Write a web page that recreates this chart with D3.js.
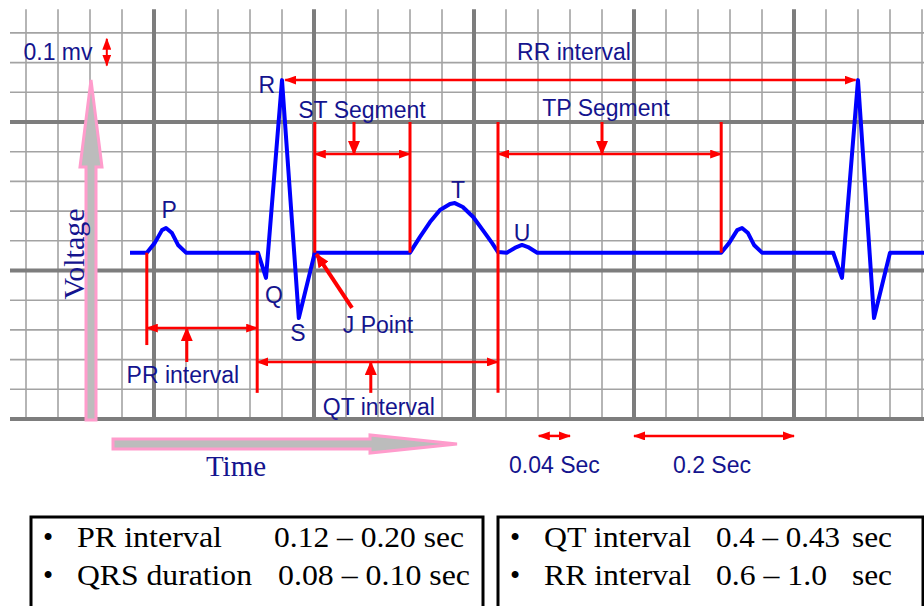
<!DOCTYPE html>
<html>
<head>
<meta charset="utf-8">
<script src="https://cdn.jsdelivr.net/npm/d3@7"></script>
<style>
  body { margin: 0; background: #fff; }
</style>
</head>
<body>
<script>
"use strict";

// ECG trace: time in seconds, voltage in mV
var ecgTime = [0.170, 0.191, 0.201, 0.210, 0.215, 0.2225, 0.230, 0.240,
               0.330, 0.340, 0.360, 0.381, 0.401,
               0.520, 0.5325, 0.545, 0.5575, 0.570, 0.576, 0.586, 0.599, 0.611, 0.6225, 0.630,
               0.641, 0.651, 0.660, 0.6675, 0.679,
               0.909, 0.919, 0.929, 0.935, 0.9425, 0.950, 0.960,
               1.049, 1.060, 1.080, 1.100, 1.120, 1.163];
var ecgVolt = [0.06, 0.06, 0.093, 0.136, 0.143, 0.126, 0.086, 0.06,
               0.06, -0.025, 0.641, -0.16, 0.06,
               0.06, 0.113, 0.163, 0.204, 0.224, 0.227, 0.214, 0.18, 0.136, 0.093, 0.062,
               0.06, 0.076, 0.086, 0.079, 0.06,
               0.06, 0.093, 0.136, 0.143, 0.126, 0.086, 0.06,
               0.06, -0.025, 0.641, -0.16, 0.06, 0.06];

// wave letters
var waveNames = ["P", "Q", "R", "S", "T", "U"];
var waveT = [0.219, 0.350, 0.341, 0.380, 0.580, 0.660];
var waveV = [0.177, -0.109, 0.598, -0.237, 0.244, 0.099];

// red vertical markers
var markT = [0.191, 0.329, 0.401, 0.520, 0.630, 0.909];
var markTop = [0.06, 0.06, 0.5, 0.5, 0.5, 0.5];
var markBottom = [-0.251, -0.412, 0.06, 0.06, -0.412, 0.06];

// double headed interval arrows
var spanNames = ["PR interval", "QT interval", "ST Segment", "TP Segment", "RR interval"];
var spanStart = [0.191, 0.329, 0.401, 0.630, 0.364];
var spanEnd = [0.329, 0.630, 0.520, 0.909, 1.077];
var spanLevel = [-0.194, -0.308, 0.392, 0.392, 0.641];
var spanLabelT = [0.236, 0.481, 0.460, 0.765, 0.725];
var spanLabelV = [-0.379, -0.487, 0.513, 0.520, 0.709];

// pointer arrows (from -> to)
var pointerFromT = [0.241, 0.471, 0.450, 0.760, 0.4475];
var pointerFromV = [-0.308, -0.412, 0.5, 0.5, -0.126];
var pointerToT = [0.241, 0.471, 0.450, 0.760, 0.403];
var pointerToV = [-0.194, -0.308, 0.392, 0.392, 0.055];

// scale bars under the grid
var barNames = ["0.04 Sec", "0.2 Sec"];
var barStart = [0.681, 0.800];
var barEnd = [0.720, 1.000];

// normal values table
var tableNames = [["PR interval", "QRS duration"], ["QT interval", "RR interval"]];
var tableRanges = [["0.12 \u2013 0.20 sec", "0.08 \u2013 0.10 sec"], ["0.4 \u2013 0.43", "0.6 \u2013 1.0"]];

var width = 924, height = 606;
var navy = "#14148e", red = "#ff0000", pink = "#ff9ccc";
var sans = "'Liberation Sans', Arial, sans-serif";
var serif = "'Liberation Serif', 'Times New Roman', serif";

var x = d3.scaleLinear().domain([0, 1.2]).range([-6, 954]);   // 0.04 s per small box
var y = d3.scaleLinear().domain([-0.5, 0.5]).range([419, 122]); // 0.1 mV per small box

var svg = d3.select("body").append("svg")
    .attr("width", width)
    .attr("height", height)
    .style("display", "block");

var defs = svg.append("defs");
defs.append("marker").attr("id", "head")
    .attr("markerUnits", "userSpaceOnUse")
    .attr("markerWidth", 12).attr("markerHeight", 9)
    .attr("refX", 11).attr("refY", 4.5)
    .attr("orient", "auto-start-reverse")
    .append("path").attr("d", "M0,0 L12,4.5 L0,9 Z").attr("fill", red);
defs.append("marker").attr("id", "bighead")
    .attr("markerUnits", "userSpaceOnUse")
    .attr("markerWidth", 14).attr("markerHeight", 12)
    .attr("refX", 13).attr("refY", 6)
    .attr("orient", "auto")
    .append("path").attr("d", "M0,0 L14,6 L0,12 Z").attr("fill", red);

// grid
var gridLeft = 0.02, gridRight = 1.1625, gridTop = 0.88, gridBottom = -0.5;
var colIdx = d3.range(1, 30), rowIdx = d3.range(-5, 9);
var grid = svg.append("g");
grid.selectAll(".vminor").data(colIdx.filter(function(i) { return i % 5 !== 0; }))
  .join("line")
    .attr("x1", function(i) { return x(i * 0.04); })
    .attr("x2", function(i) { return x(i * 0.04); })
    .attr("y1", y(gridTop)).attr("y2", y(gridBottom))
    .attr("stroke", "#a3a3a3").attr("stroke-width", 1.6);
grid.selectAll(".hminor").data(rowIdx.filter(function(i) { return i % 5 !== 0; }))
  .join("line")
    .attr("x1", x(gridLeft)).attr("x2", x(gridRight))
    .attr("y1", function(i) { return y(i * 0.1); })
    .attr("y2", function(i) { return y(i * 0.1); })
    .attr("stroke", "#a3a3a3").attr("stroke-width", 1.6);
grid.selectAll(".vmajor").data(colIdx.filter(function(i) { return i % 5 === 0; }))
  .join("line")
    .attr("x1", function(i) { return x(i * 0.04); })
    .attr("x2", function(i) { return x(i * 0.04); })
    .attr("y1", y(gridTop)).attr("y2", y(gridBottom))
    .attr("stroke", "#7d7d7d").attr("stroke-width", 4);
grid.selectAll(".hmajor").data(rowIdx.filter(function(i) { return i % 5 === 0; }))
  .join("line")
    .attr("x1", x(gridLeft)).attr("x2", x(gridRight))
    .attr("y1", function(i) { return y(i * 0.1); })
    .attr("y2", function(i) { return y(i * 0.1); })
    .attr("stroke", "#7d7d7d").attr("stroke-width", 4);

// voltage and time arrows
svg.append("path")
    .attr("d", "M91,80 L102,167 L96,167 L96,420 L86,420 L86,167 L80,167 Z")
    .attr("fill", "#bcbcbc").attr("stroke", pink).attr("stroke-width", 3)
    .attr("stroke-linejoin", "miter");
svg.append("path")
    .attr("d", "M113,439 L370,439 L370,435 L457,444 L370,453 L370,449 L113,449 Z")
    .attr("fill", "#bcbcbc").attr("stroke", pink).attr("stroke-width", 3);

svg.append("text")
    .attr("transform", "translate(84,254) rotate(-90)")
    .attr("text-anchor", "middle")
    .style("font-family", serif).style("font-size", "30px")
    .attr("fill", navy).text("Voltage");
svg.append("text")
    .attr("x", 236).attr("y", 476)
    .attr("text-anchor", "middle")
    .style("font-family", serif).style("font-size", "29px")
    .attr("fill", navy).text("Time");

// ECG trace
var ecg = ecgTime.map(function(t, i) { return [t, ecgVolt[i]]; });
svg.append("path")
    .datum(ecg)
    .attr("d", d3.line().x(function(d) { return x(d[0]); }).y(function(d) { return y(d[1]); }))
    .attr("fill", "none").attr("stroke", "#0000ff").attr("stroke-width", 4)
    .attr("stroke-linejoin", "round");

// red markers
var ann = svg.append("g");
ann.selectAll(".mark").data(markT)
  .join("line")
    .attr("x1", function(t) { return x(t); })
    .attr("x2", function(t) { return x(t); })
    .attr("y1", function(t, i) { return y(markTop[i]); })
    .attr("y2", function(t, i) { return y(markBottom[i]); })
    .attr("stroke", red).attr("stroke-width", 3);
ann.selectAll(".span").data(spanNames)
  .join("line")
    .attr("x1", function(d, i) { return x(spanStart[i]); })
    .attr("x2", function(d, i) { return x(spanEnd[i]); })
    .attr("y1", function(d, i) { return y(spanLevel[i]); })
    .attr("y2", function(d, i) { return y(spanLevel[i]); })
    .attr("stroke", red).attr("stroke-width", 2.5)
    .attr("marker-start", "url(#head)").attr("marker-end", "url(#head)");
ann.selectAll(".pointer").data(pointerFromT)
  .join("line")
    .attr("x1", function(t) { return x(t); })
    .attr("y1", function(t, i) { return y(pointerFromV[i]); })
    .attr("x2", function(t, i) { return x(pointerToT[i]); })
    .attr("y2", function(t, i) { return y(pointerToV[i]); })
    .attr("stroke", red).attr("stroke-width", function(t, i) { return i === 4 ? 4 : 3; })
    .attr("marker-end", "url(#bighead)");
ann.selectAll(".bar").data(barNames)
  .join("line")
    .attr("x1", function(d, i) { return x(barStart[i]); })
    .attr("x2", function(d, i) { return x(barEnd[i]); })
    .attr("y1", y(-0.557)).attr("y2", y(-0.557))
    .attr("stroke", red).attr("stroke-width", 2.5)
    .attr("marker-start", "url(#head)").attr("marker-end", "url(#head)");
// 0.1 mV scale mark
ann.append("line")
    .attr("x1", x(0.141)).attr("x2", x(0.141))
    .attr("y1", y(0.78)).attr("y2", y(0.69))
    .attr("stroke", red).attr("stroke-width", 2)
    .attr("marker-start", "url(#head)").attr("marker-end", "url(#head)");

// blue labels
var labels = svg.append("g")
    .attr("fill", navy)
    .attr("text-anchor", "middle")
    .style("font-family", sans).style("font-size", "23px");
labels.selectAll(".wave").data(waveNames)
  .join("text")
    .attr("x", function(d, i) { return x(waveT[i]); })
    .attr("y", function(d, i) { return y(waveV[i]); })
    .text(function(d) { return d; });
labels.selectAll(".spanlabel").data(spanNames)
  .join("text")
    .attr("x", function(d, i) { return x(spanLabelT[i]); })
    .attr("y", function(d, i) { return y(spanLabelV[i]); })
    .text(function(d) { return d; });
labels.selectAll(".barlabel").data(barNames)
  .join("text")
    .attr("x", function(d, i) { return x((barStart[i] + barEnd[i]) / 2 - (i === 0 ? 0.0 : 0.0)) + (i === 0 ? 0 : -2); })
    .attr("y", y(-0.682))
    .text(function(d) { return d; });
labels.append("text").attr("x", x(0.08)).attr("y", y(0.709)).text("0.1 mv");
labels.append("text").attr("x", x(0.48)).attr("y", y(-0.21)).text("J Point");

// normal values boxes
var boxX = [31, 498], boxW = [452, 425];
var nameX = [77, 544], rangeX = [274, 716];
var rangeW = [[190, 192], [124, 111]];
var nameW = [[145, 175], [147, 147]];
var rowY = [547, 585];
boxX.forEach(function(bx, b) {
  var g = svg.append("g");
  g.append("rect").attr("x", bx).attr("y", 517).attr("width", boxW[b]).attr("height", 110)
    .attr("fill", "none").attr("stroke", "#000").attr("stroke-width", 3);
  rowY.forEach(function(ry, r) {
    var t = g.append("g").style("font-family", serif).style("font-size", "29px").attr("fill", "#000");
    t.append("text").attr("x", bx + 17).attr("y", ry).attr("text-anchor", "middle").text("\u2022");
    t.append("text").attr("x", nameX[b]).attr("y", ry)
      .attr("textLength", nameW[b][r]).attr("lengthAdjust", "spacingAndGlyphs")
      .text(tableNames[b][r]);
    t.append("text").attr("x", rangeX[b] + (b === 0 && r === 1 ? 4 : 0)).attr("y", ry)
      .attr("textLength", rangeW[b][r]).attr("lengthAdjust", "spacingAndGlyphs")
      .text(tableRanges[b][r]);
    if (b === 1) {
      t.append("text").attr("x", 852).attr("y", ry)
        .attr("textLength", 40).attr("lengthAdjust", "spacingAndGlyphs").text("sec");
    }
  });
});
</script>
</body>
</html>
